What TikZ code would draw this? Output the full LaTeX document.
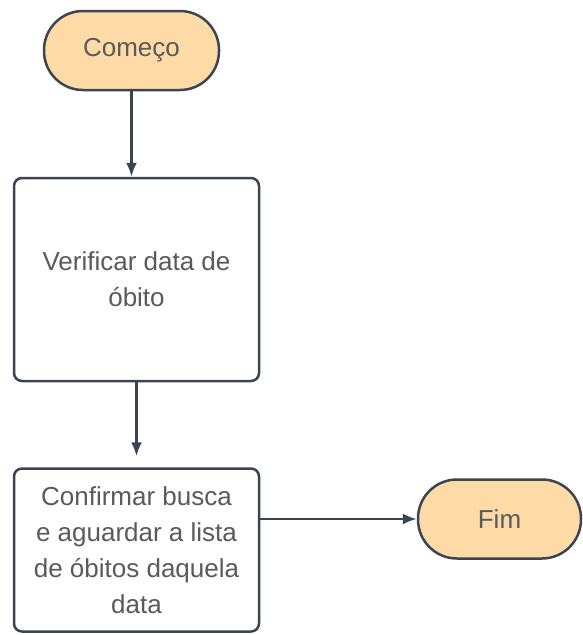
\documentclass[tikz,border=0pt]{standalone}
\usepackage{fontspec}
\setmainfont{Liberation Sans}
\usetikzlibrary{arrows.meta}

\definecolor{edge}{HTML}{3B4552}
\definecolor{termfill}{HTML}{FEDBA6}
\definecolor{txt}{HTML}{5A5A5A}

\tikzset{
  box/.style={draw=edge,line width=2.5pt,rounded corners=8pt,fill=white,
    align=center,text=txt,font=\fontsize{26}{36}\selectfont},
  term/.style={box,fill=termfill,rounded corners=39pt}
}

\begin{document}
\begin{tikzpicture}[>={Latex[length=14pt,width=11pt]},x=1pt,y=-1pt]

\useasboundingbox (0,0) rectangle (582,635);

\node[term,minimum width=175pt,minimum height=79pt] (a) at (131.5,50.5) {Começo};
\node[box,minimum width=245pt,minimum height=203pt] (b) at (136.5,279.5) {Verificar data de\\óbito};
\node[box,minimum width=245pt,minimum height=163pt] (c) at (136.5,550) {Confirmar busca\\e aguardar a lista\\de óbitos daquela\\data};
\node[term,minimum width=163pt,minimum height=79pt] (d) at (499.5,519) {Fim};

\draw[->,edge,line width=2.5pt] (a.south) -- (a.south |- b.north);
\draw[->,edge,line width=2.5pt,shorten >=11pt] (b) -- (c);
\draw[->,edge,line width=2.5pt] (c.east |- d) -- (d);

\end{tikzpicture}
\end{document}
